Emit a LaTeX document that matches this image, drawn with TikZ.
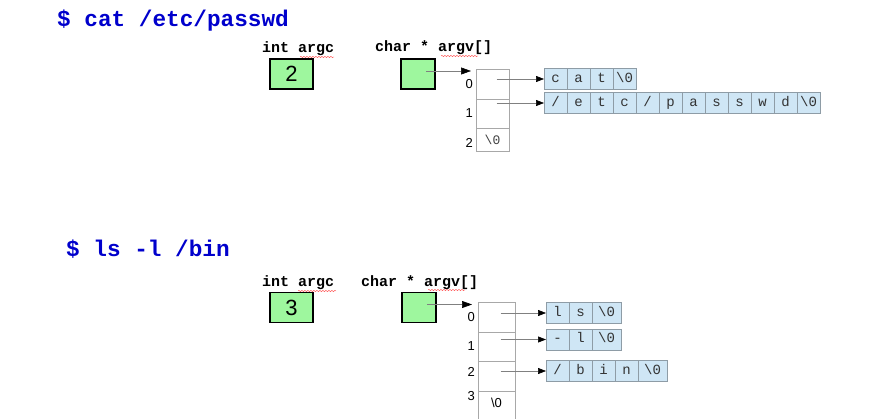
\documentclass[tikz,border=0pt]{standalone}
\usepackage{fontspec}
\setmainfont{Liberation Sans}
\setsansfont{Liberation Sans}
\setmonofont{Liberation Mono}
\usetikzlibrary{positioning}
\usetikzlibrary{arrows.meta}
\usetikzlibrary{decorations.pathmorphing}
\definecolor{cmdblue}{HTML}{0000CC}
\definecolor{argfill}{HTML}{9EF79E}
\definecolor{chrfill}{HTML}{CFE6F5}
\definecolor{chredge}{HTML}{8E9CA6}
\definecolor{arredge}{HTML}{A8A8A8}
\tikzset{
  cmd/.style={font=\ttfamily\bfseries\fontsize{22.7}{27}\selectfont, text=cmdblue, inner sep=0pt, anchor=base west},
  decl/.style={font=\ttfamily\bfseries\fontsize{15}{18}\selectfont, inner sep=0pt, anchor=base west},
  argbox/.style={draw, line width=1.3pt, fill=argfill, minimum width=43pt, minimum height=30pt, inner sep=0pt, font=\fontsize{22}{25}\selectfont},
  ptrbox/.style={argbox, minimum width=34pt},
  arrcell/.style={draw=arredge, line width=0.8pt, minimum width=#1, inner sep=0pt, outer sep=0pt},
  idx/.style={font=\fontsize{13}{15}\selectfont, inner sep=0pt, anchor=east},
  chr/.style={draw=chredge, fill=chrfill, line width=0.6pt, minimum height=21pt, inner sep=0pt, outer sep=0pt, anchor=west, text height=1.5ex, text depth=0.2ex, font=\ttfamily\fontsize{14}{16}\selectfont, text=black!80},
  ptr/.style={draw=black!50, line width=0.6pt, -{Triangle[length=8pt,width=6pt,color=black]}},
  spell/.style={draw=red!75, line width=0.4pt, decorate, decoration={snake, amplitude=0.6pt, segment length=3pt}},
}
% one string: name, x, y, count of chars, chars, width of the \0 cell
\newcommand{\strrow}[6]{%
  \foreach \ch [count=\i] in {#5} {\node[chr, minimum width=23pt] (#1\i) at ({#2+23*(\i-1)},#3) {\ch};}
  \node[chr, minimum width=#6] (#1z) at ({#2+23*#4},#3) {\textbackslash 0};}
\begin{document}
\begin{tikzpicture}[x=1pt,y=-1pt]
\useasboundingbox (0,0) rectangle (874,419);
\clip (0,0) rectangle (874,419);
% first command
\node[cmd] (cmdA) at (57,27) {\$ cat /etc/passwd};
\node[decl] (dcA) at (262,53) {int argc};
\node[decl] (dvA) at (375,52) {char * argv[]};
\draw[spell] (300,57) -- (334,57);
\draw[spell] (441,56) -- (478,56);
\node[argbox] (argcA) at (291.5,74) {2};
\node[ptrbox] (pA) at (418,74) {};
% argv array
\node[arrcell=33pt, minimum height=30pt] (aA0) at (492.5,84) {};
\node[arrcell=33pt, minimum height=29pt, below=0pt of aA0] (aA1) {};
\node[arrcell=33pt, minimum height=23pt, below=0pt of aA1, font=\ttfamily\fontsize{13}{15}\selectfont, text=black!75] (aA2) {\textbackslash 0};
\node[idx] (iA0) at ([xshift=-3pt]aA0.west) {0};
\node[idx] (iA1) at ([xshift=-3pt]aA1.west) {1};
\node[idx] (iA2) at ([xshift=-3pt,yshift=-3pt]aA2.west) {2};
% strings
\strrow{sAa}{544}{79}{3}{c,a,t}{23pt}
\strrow{sAb}{544}{103}{11}{/,e,t,c,/,p,a,s,s,w,d}{23pt}
% pointers
\coordinate (pAo) at ([xshift=8pt,yshift=3pt]pA.center);
\draw[ptr, -{Triangle[length=10pt,width=7pt,color=black]}] (pAo) -- ([xshift=-5pt]pAo -| aA0.west);
\draw[ptr] ([xshift=4pt]aA0.center |- sAa1.west) -- (sAa1.west);
\draw[ptr] ([xshift=4pt]aA1.center |- sAb1.west) -- (sAb1.west);
% second command
\node[cmd] (cmdB) at (66,257) {\$ ls -l /bin};
\node[decl] (dcB) at (262,287) {int argc};
\node[decl] (dvB) at (361,286) {char * argv[]};
\draw[spell] (298,291) -- (336,291);
\draw[spell] (428,290) -- (465,290);
\node[argbox] (argcB) at (291.5,307.5) {3};
\node[ptrbox] (pB) at (419,307.5) {};
% argv array
\node[arrcell=37pt, minimum height=30pt] (aB0) at (496.5,317) {};
\node[arrcell=37pt, minimum height=29pt, below=0pt of aB0] (aB1) {};
\node[arrcell=37pt, minimum height=30pt, below=0pt of aB1] (aB2) {};
\node[arrcell=37pt, minimum height=34pt, below=0pt of aB2] (aB3) {};
\node[font=\fontsize{13}{15}\selectfont, inner sep=0pt] (zB) at ([yshift=-12pt]aB3.north) {\textbackslash 0};
\node[idx] (iB0) at ([xshift=-3pt]aB0.west) {0};
\node[idx] (iB1) at ([xshift=-3pt]aB1.west) {1};
\node[idx] (iB2) at ([xshift=-3pt,yshift=4pt]aB2.west) {2};
\node[idx] (iB3) at ([xshift=-3pt,yshift=-5pt]aB3.north west) {3};
% strings
\strrow{sBa}{546}{313}{2}{l,s}{29pt}
\strrow{sBb}{546}{339.5}{2}{-,l}{29pt}
\strrow{sBc}{546}{371}{4}{/,b,i,n}{29pt}
% pointers
\coordinate (pBo) at ([xshift=8pt,yshift=3pt]pB.center);
\draw[ptr, -{Triangle[length=10pt,width=7pt,color=black]}] (pBo) -- ([xshift=-6pt]pBo -| aB0.west);
\draw[ptr] ([xshift=4pt]aB0.center |- sBa1.west) -- (sBa1.west);
\draw[ptr] ([xshift=4pt]aB1.center |- sBb1.west) -- (sBb1.west);
\draw[ptr] ([xshift=4pt]aB2.center |- sBc1.west) -- (sBc1.west);
\end{tikzpicture}
\end{document}
